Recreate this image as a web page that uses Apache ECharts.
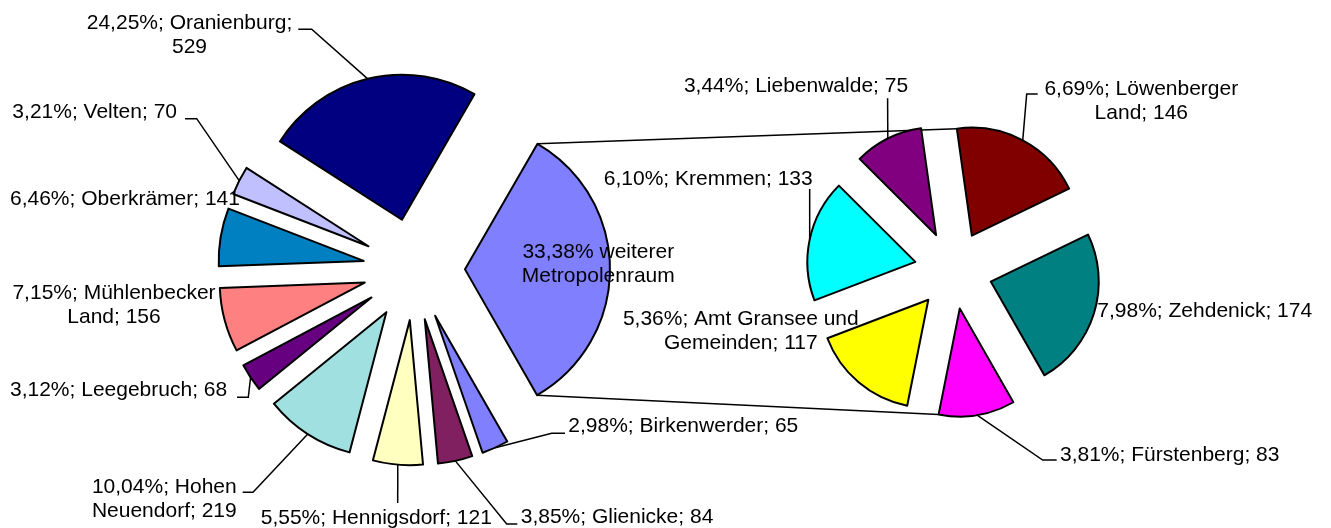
<!DOCTYPE html>
<html><head><meta charset="utf-8">
<script src="https://cdn.jsdelivr.net/npm/echarts@6/dist/echarts.min.js"></script>
<style>html,body{margin:0;padding:0;background:#fff}#c{width:1331px;height:528px}</style>
</head><body><div id="c"></div>
<script>
// ---- DATA ----
// Secondary pie (the split-off "weiterer Metropolenraum"), clockwise from top
const subNames = ['Löwenberger Land', 'Zehdenick', 'Fürstenberg', 'Amt Gransee und Gemeinden', 'Kremmen', 'Liebenwalde'];
const subValues = [146, 174, 83, 117, 133, 75];
// Primary pie, clockwise after the "other" slice
const otherName = 'weiterer Metropolenraum';
const mainNames = ['Birkenwerder', 'Glienicke', 'Hennigsdorf', 'Hohen Neuendorf', 'Leegebruch', 'Mühlenbecker Land', 'Oberkrämer', 'Velten', 'Oranienburg'];
const mainValues = [65, 84, 121, 219, 68, 156, 141, 70, 529];

// ---- STYLE / LAYOUT ----
const otherColor = '#8080FF';
const mainColors = ['#8080FF', '#802060', '#FFFFC0', '#A0E0E0', '#660080', '#FF8080', '#0080C0', '#C0C0FF', '#000080'];
const subColors = ['#800000', '#008080', '#FF00FF', '#FFFF00', '#00FFFF', '#800080'];
const geoL = { cx: 414, cy: 269.3, r: 145, off: 51, start: 60 };
const geoR = { cx: 953.5, cy: 270, r: 108, off: 39, start: 98 };
const labelPos = {
  'Oranienburg': { x: 189.5, y: 35.5, align: 'center', brk: 'Oranienburg;', line: [[311.7, 29.3], [298.3, 29.3]] },
  'Velten': { x: 177, y: 112.7, align: 'right', line: [[196.7, 118.7], [185, 118.7]] },
  'Oberkrämer': { x: 10, y: 199, align: 'left' },
  'Mühlenbecker Land': { x: 114, y: 305, align: 'center', brk: 'Mühlenbecker' },
  'Leegebruch': { x: 10, y: 390, align: 'left', line: [[248.3, 397.3], [237, 397.3]] },
  'Hohen Neuendorf': { x: 164.3, y: 499, align: 'center', brk: 'Hohen', line: [[253, 492.3], [242.7, 492.3]] },
  'Hennigsdorf': { x: 376.3, y: 518, align: 'center', line: [[397.7, 503], [397.7, 503]] },
  'Glienicke': { x: 520.7, y: 517.3, align: 'left', line: [[506.7, 524], [517.3, 524]] },
  'Birkenwerder': { x: 568.3, y: 426.7, align: 'left', line: [[551.7, 433.3], [565, 433.3]] },
  'weiterer Metropolenraum': { x: 598.3, y: 264, align: 'center', brk: 'weiterer' },
  'Liebenwalde': { x: 796, y: 86.7, align: 'center', line: [[887.6, 98.3], [887.6, 98.3]] },
  'Löwenberger Land': { x: 1141.3, y: 101.3, align: 'center', brk: 'Löwenberger', line: [[1026.7, 94], [1037.7, 94]] },
  'Kremmen': { x: 812.7, y: 179, align: 'right', line: [[809.7, 189], [809.7, 189]] },
  'Amt Gransee und Gemeinden': { x: 740.8, y: 331.5, align: 'center', brk: 'und' },
  'Zehdenick': { x: 1097.3, y: 311.7, align: 'left' },
  'Fürstenberg': { x: 1060, y: 455, align: 'left', line: [[1042.7, 460], [1056.7, 460]] }
};

// ---- DERIVED ----
const sum = a => a.reduce((s, v) => s + v, 0);
const otherValue = sum(subValues);
const grandTotal = sum(mainValues) + otherValue;
const L_names = [otherName].concat(mainNames);
const L_values = [otherValue].concat(mainValues);
const L_colors = [otherColor].concat(mainColors);

function pct(v) { return (v / grandTotal * 100).toFixed(2).replace('.', ',') + '%'; }
function labelText(name, v) {
  let t = name === otherName ? pct(v) + ' ' + name : pct(v) + '; ' + name + '; ' + v;
  const p = labelPos[name];
  if (p && p.brk) t = t.replace(p.brk + ' ', p.brk + '\n');
  return t;
}
const rad = d => d * Math.PI / 180;
function angles(values, start) {
  const tot = sum(values); let cum = 0;
  return values.map(v => { const a0 = start - cum / tot * 360; cum += v; const a1 = start - cum / tot * 360; return { a0, a1, mid: (a0 + a1) / 2 }; });
}
function pt(cx, cy, r, deg) { return [cx + r * Math.cos(rad(deg)), cy - r * Math.sin(rad(deg))]; }
const angL = angles(L_values, geoL.start);
const angR = angles(subValues, geoR.start);
function tip(geo, a) { return pt(geo.cx, geo.cy, geo.off, a.mid); }
function arcMid(geo, a) { return pt(geo.cx, geo.cy, geo.off + geo.r, a.mid); }

const font = { fontFamily: 'Liberation Sans, Arial, sans-serif', fontSize: 21, color: '#000', lineHeight: 24 };

// exploded sectors (all slices selected -> offset outwards), no labels
function sectorSeries(names, values, colors, geo) {
  return {
    type: 'pie', animation: false, silent: true, z: 2,
    center: [geo.cx, geo.cy], radius: geo.r, startAngle: geo.start, clockwise: true,
    selectedMode: 'multiple', selectedOffset: geo.off, minAngle: 0,
    emphasis: { disabled: true },
    itemStyle: { borderColor: '#000', borderWidth: 2 },
    label: { show: false }, labelLine: { show: false },
    data: names.map((n, i) => ({
      name: n, value: values[i], selected: true,
      itemStyle: { color: colors[i] },
      select: { itemStyle: { color: colors[i], borderColor: '#000', borderWidth: 2 } }
    }))
  };
}
// same data, invisible sectors, carries the data labels and leader lines
function labelSeries(names, values, geo, ang) {
  return {
    type: 'pie', animation: false, silent: true, z: 3,
    center: [geo.cx, geo.cy], radius: geo.r, startAngle: geo.start, clockwise: true,
    selectedMode: false, avoidLabelOverlap: false, minAngle: 0,
    emphasis: { disabled: true },
    itemStyle: { color: 'rgba(0,0,0,0)', borderWidth: 0 },
    label: Object.assign({ show: true, position: 'outside', formatter: p => labelText(p.name, p.value) }, font),
    labelLine: { show: true, length: 10, length2: 10, lineStyle: { color: '#000', width: 1.5 } },
    labelLayout: function (params) {
      const p = labelPos[names[params.dataIndex]];
      if (!p) return {};
      const res = { x: p.x, y: p.y, align: p.align, verticalAlign: 'middle', hideOverlap: false };
      if (p.line) res.labelLinePoints = [arcMid(geo, ang[params.dataIndex]), p.line[0], p.line[1]];
      return res;
    },
    data: names.map((n, i) => ({ name: n, value: values[i], labelLine: { show: !!(labelPos[n] && labelPos[n].line) } }))
  };
}

// connector lines between the "other" slice and the secondary pie
const tW = tip(geoL, angL[0]);
const upL = pt(tW[0], tW[1], geoL.r, angL[0].a0);
const loL = pt(tW[0], tW[1], geoL.r, angL[0].a1);
const t0 = tip(geoR, angR[0]);
const upR = pt(t0[0], t0[1], geoR.r, angR[0].a0);
const t2 = tip(geoR, angR[2]);
const loR = pt(t2[0], t2[1], geoR.r, angR[2].a1);

const chart = echarts.init(document.getElementById('c'), null, { renderer: 'canvas' });
chart.setOption({
  backgroundColor: '#fff',
  animation: false,
  series: [
    sectorSeries(L_names, L_values, L_colors, geoL),
    sectorSeries(subNames, subValues, subColors, geoR),
    labelSeries(L_names, L_values, geoL, angL),
    labelSeries(subNames, subValues, geoR, angR)
  ],
  graphic: [
    { type: 'line', z: 1, shape: { x1: upL[0], y1: upL[1], x2: upR[0], y2: upR[1] }, style: { stroke: '#000', lineWidth: 1.5 } },
    { type: 'line', z: 1, shape: { x1: loL[0], y1: loL[1], x2: loR[0], y2: loR[1] }, style: { stroke: '#000', lineWidth: 1.5 } }
  ]
});
</script></body></html>
